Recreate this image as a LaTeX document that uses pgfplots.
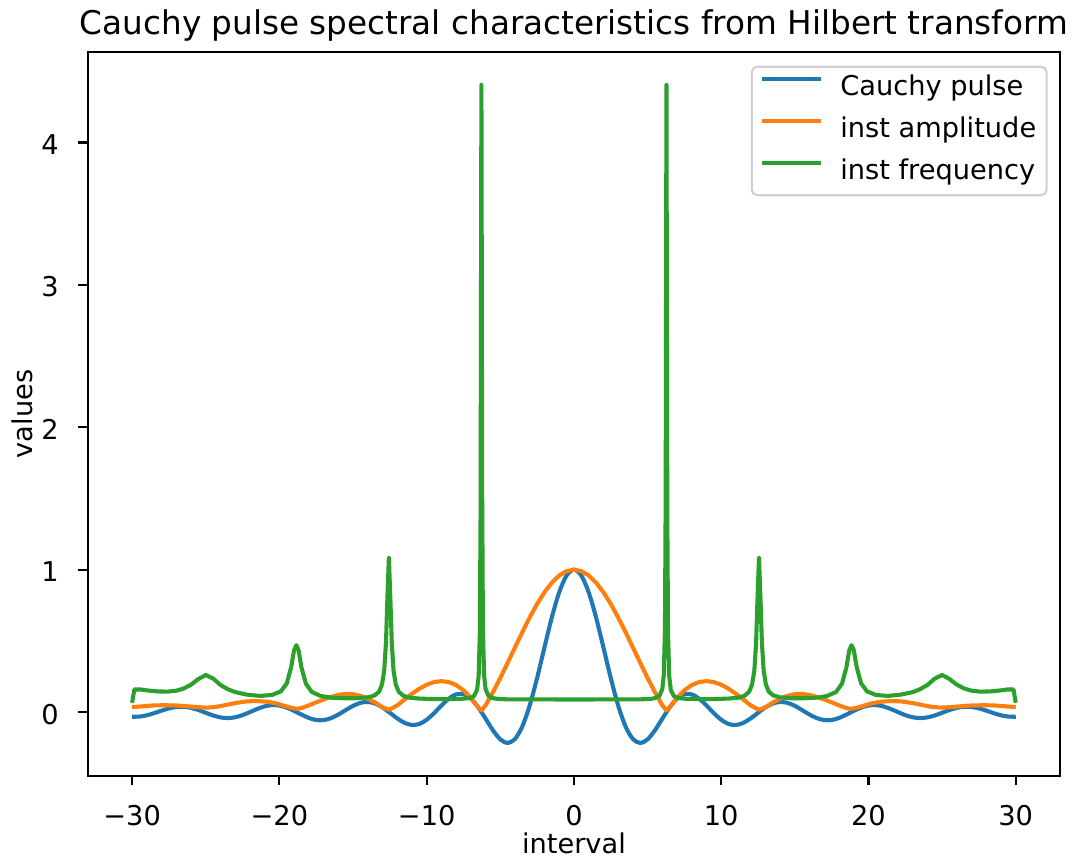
\documentclass[border=0pt]{standalone}
\usepackage{fontspec}
\setmainfont{DejaVu Sans}
\usepackage{pgfplots}
\pgfplotsset{compat=1.18}
\definecolor{c1}{HTML}{1F77B4}
\definecolor{c2}{HTML}{FF7F0E}
\definecolor{c3}{HTML}{2CA02C}
\begin{document}
\begin{tikzpicture}
\useasboundingbox (-32.3pt,-30.5pt) rectangle (361.8pt,285.0pt);
\begin{axis}[
  at={(0,0)}, anchor=south west,
  scale only axis, width=357pt, height=265.9pt,
  xmin=-33, xmax=33, ymin=-0.449, ymax=4.636,
  axis line style={line width=0.8pt, black},
  tick align=outside, major tick length=3.5pt,
  tick style={line width=0.8pt, black},
  xtick pos=left, ytick pos=left,
  xtick={-30,-20,-10,0,10,20,30},
  xticklabels={−30,−20,−10,0,10,20,30},
  ytick={0,1,2,3,4},
  yticklabels={0,1,2,3,4},
  ticklabel style={font=\fontsize{10}{12}\selectfont},
  xticklabel style={anchor=base, inner sep=0pt, yshift=-14.6pt},
  yticklabel style={anchor=base east, inner sep=0pt, xshift=-7pt, yshift=-4.4pt},
  every axis title/.style={at={(axis description cs:0.5,1)}, anchor=base, yshift=6.5pt, inner sep=0pt, font=\fontsize{12}{14}\selectfont},
  every axis x label/.style={at={(axis description cs:0.5,0)}, anchor=base, yshift=-28.6pt, inner sep=0pt, font=\fontsize{10}{12}\selectfont},
  every axis y label/.style={at={(axis description cs:-0.0574,0.5)}, rotate=90, anchor=base, inner sep=0pt, font=\fontsize{10}{12}\selectfont},
  title={Cauchy pulse spectral characteristics from Hilbert transform},
  xlabel={interval},
  ylabel={values},
  legend style={at={(axis description cs:1,1)}, anchor=north east, xshift=-4.5pt, yshift=-5pt,
    draw=black!18, line width=0.8pt, rounded corners=2pt, fill=white, fill opacity=0.8, text opacity=1,
    inner xsep=3.8pt, inner ysep=3pt, font=\fontsize{10}{12}\selectfont, row sep=5.3pt,
    nodes={inner sep=0pt, text height=7.6pt, text depth=2.6pt},
    /tikz/every odd column/.append style={column sep=7.2pt}},
  legend cell align=left,
  legend image code/.code={\draw[#1, line cap=rect, sharp corners] (0pt,3.6pt) -- (20pt,3.6pt);},
]
\addplot[c1, line width=1.5pt, line join=round, smooth] coordinates {
(-30,-0.0329) (-29.5,-0.0319) (-29,-0.0229) (-28.5,-0.0078) (-28,0.0097) (-27.5,0.0255) (-27,0.0354) (-26.5,0.0369) (-26,0.0293) (-25.5,0.0141) (-25,-0.0053) (-24.5,-0.0241) (-24,-0.0377) (-23.5,-0.0425) (-23,-0.0368) (-22.5,-0.0217) (-22,-0.0004) (-21.5,0.0219) (-21,0.0398) (-20.5,0.0486) (-20,0.0456) (-19.5,0.0311) (-19,0.0079) (-18.5,-0.0180) (-18,-0.0417) (-17.5,-0.0560) (-17,-0.0566) (-16.5,-0.0431) (-16,-0.0180) (-15.5,0.0133) (-15,0.0434) (-14.5,0.0645) (-14,0.0708) (-13.5,0.0595) (-13,0.0323) (-12.5,-0.0053) (-12,-0.0447) (-11.5,-0.0761) (-11,-0.0909) (-10.5,-0.0838) (-10,-0.0544) (-9.5,-0.0079) (-9,0.0458) (-8.5,0.0939) (-8,0.1237) (-7.5,0.1251) (-7,0.0939) (-6.5,0.0331) (-6,-0.0466) (-5.5,-0.1283) (-5,-0.1918) (-4.5,-0.2172) (-4,-0.1892) (-3.5,-0.1002) (-3,0.0470) (-2.5,0.2394) (-2,0.4546) (-1.5,0.6650) (-1,0.8415) (-0.5,0.9589) (0,1.0000)
(0.5,0.9589) (1,0.8415) (1.5,0.6650) (2,0.4546) (2.5,0.2394) (3,0.0470) (3.5,-0.1002) (4,-0.1892) (4.5,-0.2172) (5,-0.1918) (5.5,-0.1283) (6,-0.0466) (6.5,0.0331) (7,0.0939) (7.5,0.1251) (8,0.1237) (8.5,0.0939) (9,0.0458) (9.5,-0.0079) (10,-0.0544) (10.5,-0.0838) (11,-0.0909) (11.5,-0.0761) (12,-0.0447) (12.5,-0.0053) (13,0.0323) (13.5,0.0595) (14,0.0708) (14.5,0.0645) (15,0.0434) (15.5,0.0133) (16,-0.0180) (16.5,-0.0431) (17,-0.0566) (17.5,-0.0560) (18,-0.0417) (18.5,-0.0180) (19,0.0079) (19.5,0.0311) (20,0.0456) (20.5,0.0486) (21,0.0398) (21.5,0.0219) (22,-0.0004) (22.5,-0.0217) (23,-0.0368) (23.5,-0.0425) (24,-0.0377) (24.5,-0.0241) (25,-0.0053) (25.5,0.0141) (26,0.0293) (26.5,0.0369) (27,0.0354) (27.5,0.0255) (28,0.0097) (28.5,-0.0078) (29,-0.0229) (29.5,-0.0319) (30,-0.0329)
};
\addplot[c2, line width=1.5pt, line join=round] coordinates {
(-30,0.035) (-29.3,0.040) (-28.6,0.046) (-27.8,0.048) (-27,0.046) (-26.2,0.040) (-25.5,0.034) (-24.9,0.031) (-24.3,0.036) (-23.7,0.048) (-23,0.063) (-22.2,0.075) (-21.5,0.077) (-20.8,0.072) (-20.2,0.060) (-19.7,0.045) (-19.2,0.030) (-18.8,0.022) (-18.5,0.028) (-18,0.047) (-17.5,0.068) (-17,0.088) (-16.5,0.106) (-16,0.120) (-15.5,0.127) (-15,0.1251) (-14.5,0.1140) (-14,0.0939) (-13.5,0.0667) (-13,0.0331) (-12.55,0.016) (-12,0.0466) (-11.5,0.0881) (-11,0.1283) (-10.5,0.1636) (-10,0.1918) (-9.5,0.2104) (-9,0.2172) (-8.5,0.2106) (-8,0.1892) (-7.5,0.1524) (-7,0.1002) (-6.5,0.0333) (-6.28,0.012) (-6,0.0470) (-5.5,0.1388) (-5,0.2394) (-4.5,0.3458) (-4,0.4546) (-3.5,0.5623) (-3,0.6650) (-2.5,0.7592) (-2,0.8415) (-1.5,0.9089) (-1,0.9589) (-0.5,0.9896) (0,1.0000)
(0.5,0.9896) (1,0.9589) (1.5,0.9089) (2,0.8415) (2.5,0.7592) (3,0.6650) (3.5,0.5623) (4,0.4546) (4.5,0.3458) (5,0.2394) (5.5,0.1388) (6,0.0470) (6.28,0.012) (6.5,0.0333) (7,0.1002) (7.5,0.1524) (8,0.1892) (8.5,0.2106) (9,0.2172) (9.5,0.2104) (10,0.1918) (10.5,0.1636) (11,0.1283) (11.5,0.0881) (12,0.0466) (12.55,0.016) (13,0.0331) (13.5,0.0667) (14,0.0939) (14.5,0.1140) (15,0.1251) (15.5,0.127) (16,0.120) (16.5,0.106) (17,0.088) (17.5,0.068) (18,0.047) (18.5,0.028) (18.8,0.022) (19.2,0.030) (19.7,0.045) (20.2,0.060) (20.8,0.072) (21.5,0.077) (22.2,0.075) (23,0.063) (23.7,0.048) (24.3,0.036) (24.9,0.031) (25.5,0.034) (26.2,0.040) (27,0.046) (27.8,0.048) (28.6,0.046) (29.3,0.040) (30,0.035)
};
\addplot[c3, line width=1.5pt, line join=round] coordinates {
(-30,0.065) (-29.85,0.158) (-29.4,0.158) (-29,0.152) (-28.3,0.145) (-27.6,0.143) (-27,0.150) (-26.5,0.165) (-26,0.192) (-25.5,0.232) (-25,0.260) (-24.5,0.235) (-24,0.190) (-23.5,0.160) (-23,0.140) (-22.2,0.122) (-21.3,0.113) (-20.5,0.120) (-19.9,0.145) (-19.5,0.201) (-19.2,0.315) (-19,0.435) (-18.85,0.470) (-18.7,0.435) (-18.5,0.313) (-18.2,0.199) (-17.8,0.141) (-17.2,0.113) (-16.5,0.101) (-15.6,0.0966) (-14.7,0.097) (-13.95,0.104) (-13.53,0.117) (-13.23,0.143) (-13.03,0.195) (-12.88,0.294) (-12.76,0.493) (-12.67,0.791) (-12.566,1.085) (-12.46,0.783) (-12.37,0.488) (-12.25,0.292) (-12.1,0.194) (-11.9,0.143) (-11.6,0.115) (-11.2,0.1015) (-10.5,0.0945) (-9.5,0.091) (-8.5,0.091) (-7.6,0.093) (-7.1,0.098) (-6.8,0.110) (-6.58,0.154) (-6.47,0.251) (-6.39,0.551) (-6.34,1.38) (-6.31,2.92) (-6.283,4.405) (-6.26,3.22) (-6.23,1.51) (-6.18,0.584) (-6.1,0.258) (-6.0,0.161) (-5.8,0.113) (-5.5,0.098) (-5.2,0.092) (-4.5,0.089) (0,0.088)
(4.5,0.089) (5.2,0.092) (5.5,0.098) (5.8,0.113) (6.0,0.161) (6.1,0.258) (6.18,0.584) (6.23,1.51) (6.26,3.22) (6.283,4.405) (6.31,2.92) (6.34,1.38) (6.39,0.551) (6.47,0.251) (6.58,0.154) (6.8,0.110) (7.1,0.098) (7.6,0.093) (8.5,0.091) (9.5,0.091) (10.5,0.0945) (11.2,0.1015) (11.6,0.115) (11.9,0.143) (12.1,0.194) (12.25,0.292) (12.37,0.488) (12.46,0.783) (12.566,1.085) (12.67,0.791) (12.76,0.493) (12.88,0.294) (13.03,0.195) (13.23,0.143) (13.53,0.117) (13.95,0.104) (14.7,0.097) (15.6,0.0966) (16.5,0.101) (17.2,0.113) (17.8,0.141) (18.2,0.199) (18.5,0.313) (18.7,0.435) (18.85,0.470) (19.0,0.435) (19.2,0.315) (19.5,0.201) (19.9,0.145) (20.5,0.120) (21.3,0.113) (22.2,0.122) (23.0,0.140) (23.5,0.160) (24.0,0.190) (24.5,0.235) (25.0,0.260) (25.5,0.232) (26.0,0.192) (26.5,0.165) (27.0,0.150) (27.6,0.143) (28.3,0.145) (29.0,0.152) (29.4,0.158) (29.85,0.158) (30,0.065)
};
\legend{Cauchy pulse, inst amplitude, inst frequency}
\end{axis}
\end{tikzpicture}
\end{document}
